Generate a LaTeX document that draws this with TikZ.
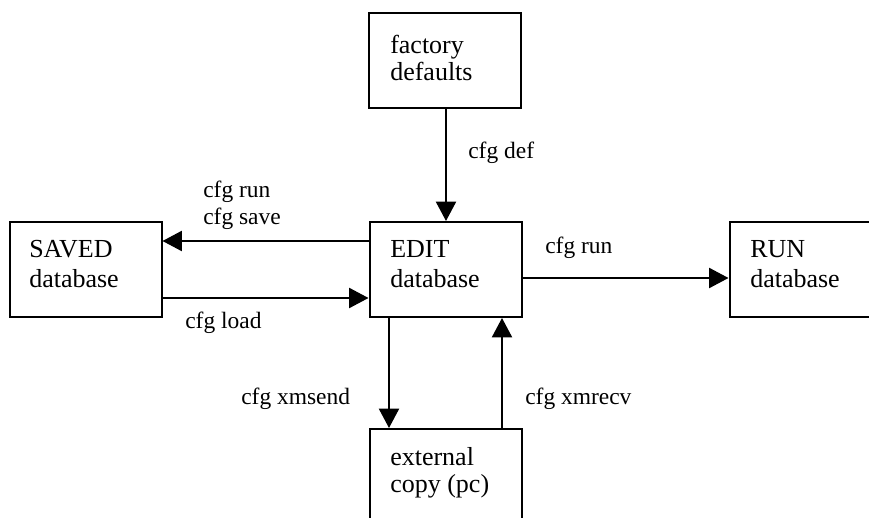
\documentclass[tikz,border=0pt]{standalone}
\usepackage{fontspec}
\setmainfont{Liberation Serif}
\usetikzlibrary{arrows.meta}
\tikzset{
  box/.style={draw, line width=1.5pt, rectangle, inner sep=0pt, minimum width=114pt, minimum height=71.25pt},
  boxtext/.style={anchor=base west, inner sep=0pt, align=left, font=\fontsize{19.5pt}{22.5pt}\selectfont},
  boxtextb/.style={boxtext, font=\fontsize{19.5pt}{20.25pt}\selectfont},
  lab/.style={anchor=base west, inner sep=0pt, align=left, font=\fontsize{17.6pt}{20.25pt}\selectfont},
  arr/.style={line width=1.5pt, -{Triangle[length=14.5pt,width=15pt]}}
}
\begin{document}
\begin{tikzpicture}[x=0.75pt,y=-0.75pt]
\useasboundingbox (0,0) rectangle (869,518);
% boxes
\node[box] (factory) at (445,60.5) {};
\node[box] (edit) at (445.5,269.5) {};
\node[box] (saved) at (85.5,269.5) {};
\node[box] (run) at (805.5,269.5) {};
\node[box] (ext) at (446,476.5) {};
% box texts (anchored at the baseline of the last line)
\node[boxtextb] (tfactory) at (390,80) {factory\\defaults};
\node[boxtext] (tedit) at (390,287) {EDIT\\database};
\node[boxtext] (tsaved) at (29,287) {SAVED\\database};
\node[boxtext] (trun) at (750,287) {RUN\\database};
\node[boxtextb] (text) at (390,492) {external\\copy (pc)};
% connector positions
\coordinate (xdef) at (446,0);
\coordinate (ysave) at (0,241);
\coordinate (yload) at (0,298);
\coordinate (yrun) at (0,278);
\coordinate (xsend) at (389,0);
\coordinate (xrecv) at (502,0);
% connectors
\draw[arr] (factory.south -| xdef) -- (edit.north -| xdef);
\draw[arr] (edit.west |- ysave) -- (saved.east |- ysave);
\draw[arr] (saved.east |- yload) -- (edit.west |- yload);
\draw[arr] (edit.east |- yrun) -- (run.west |- yrun);
\draw[arr] (edit.south -| xsend) -- (ext.north -| xsend);
\draw[arr] (ext.north -| xrecv) -- (edit.south -| xrecv);
% labels
\node[lab] (ldef) at (468,158) {cfg def};
\node[lab] (lsave) at (203,224) {cfg run\\cfg save};
\node[lab] (lload) at (185,328) {cfg load};
\node[lab] (lrun) at (545,253) {cfg run};
\node[lab] (lsend) at (241,404) {cfg xmsend};
\node[lab] (lrecv) at (525,404) {cfg xmrecv};
\end{tikzpicture}
\end{document}
